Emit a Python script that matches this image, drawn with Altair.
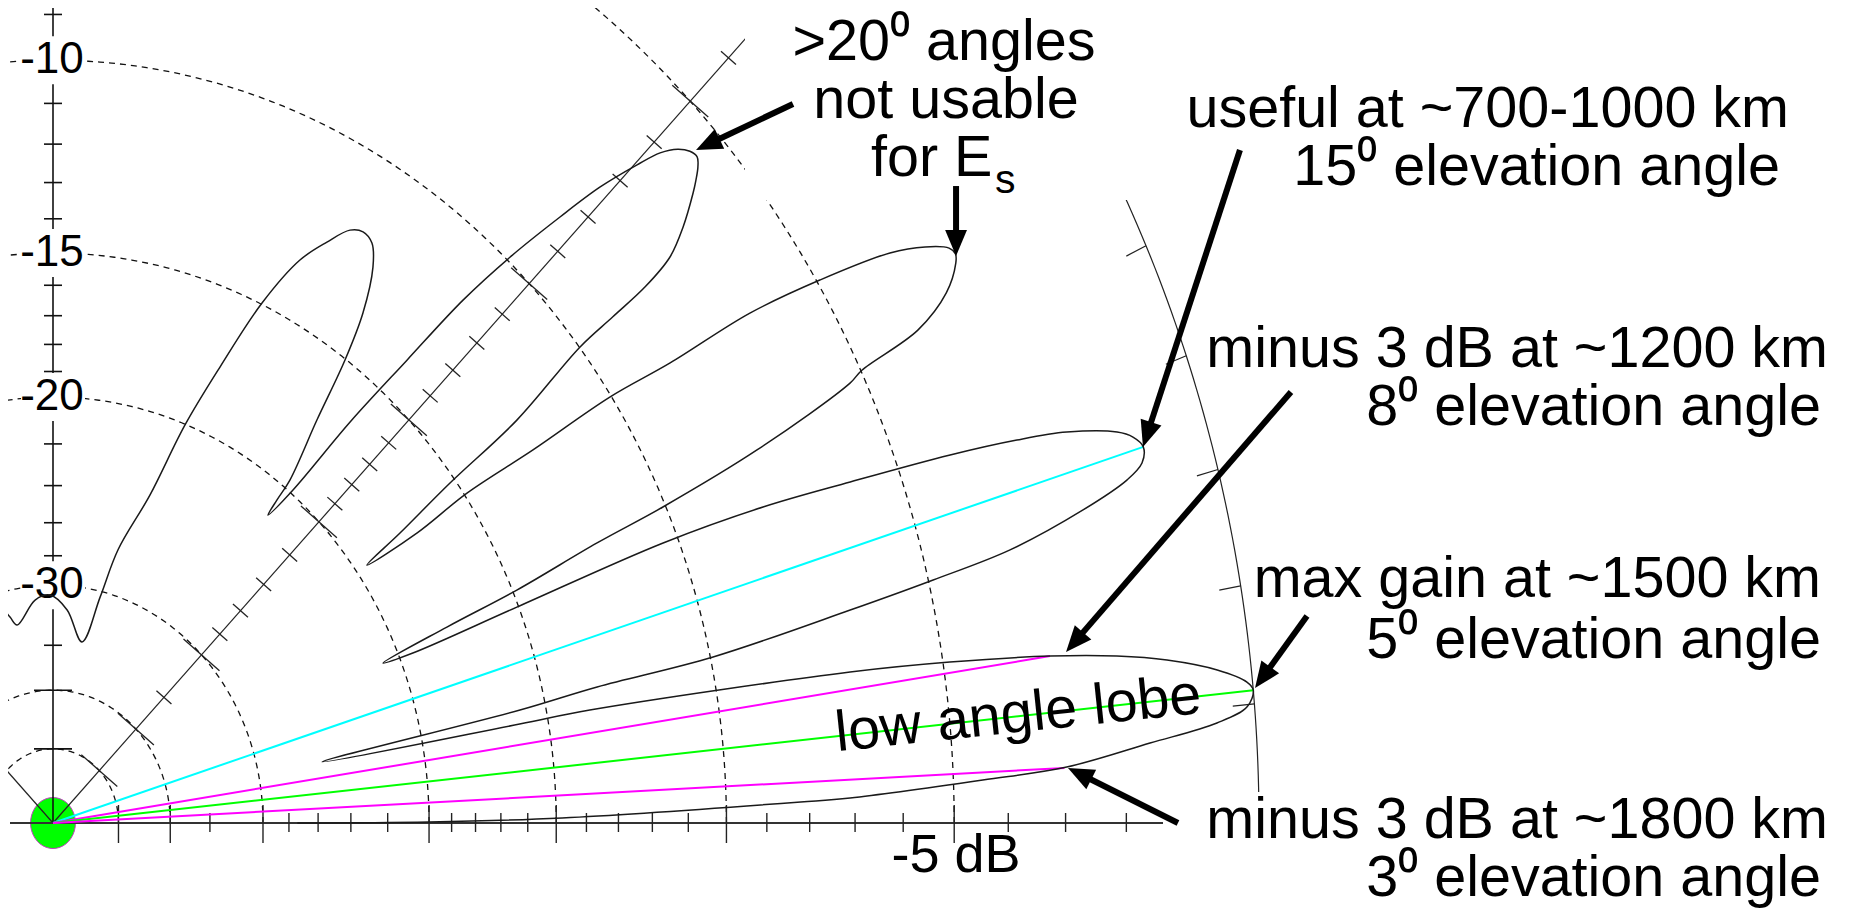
import numpy as np
import pandas as pd
import altair as alt

# ---------------- values ----------------
# elevation pattern, in drawing order: elevation angle (deg) and gain rel. to max (dB)
pattern_elev = [0.0, 0.13, 0.5, 1.42, 1.59, 2.34, 2.79, 3.68, 4.34, 4.9, 5.58,
                5.95, 6.62, 7.36, 7.89, 8.41, 9.0, 9.49, 10.52, 10.6, 11.33,
                12.06, 12.45, 12.52, 13.27, 13.7, 14.14, 15.02, 15.75, 16.27, 16.94,
                17.51, 17.97, 18.8, 19.33, 19.91, 20.69, 21.45, 22.06, 22.34, 22.64, 23.17,
                23.71, 23.91, 24.44, 24.58, 25.07, 25.98, 26.3, 26.71, 27.65, 28.7, 29.1, 29.53,
                30.25, 31.02, 32.01, 32.86, 33.35, 34.03, 34.46, 35.13, 35.12, 35.96,
                36.42, 37.09, 37.48, 38.57, 38.6, 38.64, 39.0, 39.87, 41.0, 41.44, 41.92,
                42.4, 42.96, 43.6, 44.26, 44.85, 45.74, 46.54,
                47.55, 48.39, 49.1, 50.0, 50.78, 51.67,
                51.86, 51.96, 53.43, 54.46, 55.46, 56.9, 58.08, 59.29, 60.43, 61.89,
                63.58, 65.52, 67.47, 69.41, 71.49, 74.9, 76.7, 79.71, 85.7, 90.86,
                95.2, 101.6, 103.3, 106.0]
pattern_db = [-27.4, -20.0, -14.8, -8.2, -7.1, -4.45, -2.96, -1.59, -0.56, -0.11, 0.0,
              -0.08, -0.49, -1.22, -1.99, -3.08, -4.87, -6.87, -13.6, -16.0, -25.4,
              -15.9, -13.25, -9.93, -6.64, -4.91, -3.44, -2.11, -1.33, -1.05, -0.97,
              -1.08, -1.29, -2.04, -2.85, -4.02, -5.96, -7.86, -10.39, -15.06, -19.38, -20.8,
              -17.69, -14.86, -12.05, -10.07, -7.54, -5.28, -4.98, -3.77, -3.07, -2.72, -2.66, -2.71,
              -3.05, -3.62, -4.94, -6.42, -8.41, -10.04, -12.5, -14.9, -17.1, -19.47,
              -17.65, -15.19, -12.43, -9.99, -8.94, -7.96, -7.18, -6.6, -6.04, -5.85, -5.67,
              -5.56, -5.6, -5.75, -6.05, -6.54, -7.39, -8.45,
              -9.91, -11.49, -13.77, -16.46, -19.84, -21.4,
              -20.62, -19.62, -17.19, -15.03, -13.58, -12.39, -11.89, -11.78, -11.93, -12.52,
              -13.32, -14.96, -17.47, -20.03, -23.58, -27.0, -30.4, -34.41, -31.84, -30.73,
              -31.04, -32.79, -32.0, -30.5]

# coloured rays from the origin
ray_elev = [16.94, 8.41, 5.58, 2.75]
ray_db = [-0.97, -3.08, 0.0, -3.0]
ray_color = ["#00ffff", "#ff00ff", "#00ff00", "#ff00ff"]

# grid circles (dB) and scale ticks (dB)
grid_db = [-5, -10, -15, -20, -30, -40, -50]
outer_db = 0
tick_major_db = [-5, -10, -15, -20, -30, -40, -50]
tick_minor_db = [-1, -2, -3, -4, -6, -7, -8, -9, -11, -12, -13, -14,
                 -16, -17, -18, -19, -22, -24, -26, -28, -35]
outer_tick_elev = [5, 10, 15, 20, 25, 30, 35, 40, 45, 50, 55, 60, 65, 70, 75, 80, 85]
radial_elev = [45, 135]

# vertical scale labels
vlabel_db = [-10, -15, -20, -30]
vlabel_txt = ["-10", "-15", "-20", "-30"]

# annotation arrows (units of the 0 dB radius)
arrow_tail_u = [0.6136, 0.7488, 0.9842, 1.0265, 1.0398, 0.9328]
arrow_tail_v = [0.5264, 0.4663, 0.4927, 0.3155, 0.1515, 0.0]
arrow_tip_u = [0.5332, 0.7488, 0.9038, 0.8400, 0.9967, 0.8416]
arrow_tip_v = [0.4927, 0.4151, 0.2753, 0.1252, 0.0988, 0.0403]

# annotation texts
note_text = [">20\u2070 angles", "not usable", "for E", "s",
             "useful at ~700-1000 km", "15\u2070 elevation angle",
             "minus 3 dB at ~1200 km", "8\u2070 elevation angle",
             "max gain at ~1500 km", "5\u2070 elevation angle",
             "minus 3 dB at ~1800 km", "3\u2070 elevation angle", "-5 dB"]
lobe_text = "low angle lobe"

# ---------------- layout / style ----------------
FONT = "Liberation Sans"
FS = 57.5
W, H = 1834, 900
SX, SY = 1206.0, 1366.0       # px per unit radius
OX, OY = 45.0, 815.0          # origin in plot px
xs = alt.Scale(domain=[-OX / SX, (W - OX) / SX], nice=False, zero=False)
ys = alt.Scale(domain=[(OY - H) / SY, OY / SY], nice=False, zero=False)

note_pos = [(936, 52, "center", FS), (938, 110, "center", FS), (863, 168, "left", FS),
            (987, 185, "left", 41),
            (1781, 119, "right", FS), (1772, 177, "right", FS),
            (1820, 359, "right", FS), (1813, 417, "right", FS),
            (1813, 589, "right", FS), (1813, 650, "right", FS),
            (1820, 830, "right", FS), (1813, 888, "right", FS),
            (948, 864, "center", 54)]


def rad(db):
    return 0.89 ** (-np.asarray(db, dtype=float) / 2.0)


def cart(elev, db):
    r = rad(db)
    t = np.radians(np.asarray(elev, dtype=float))
    return r * np.cos(t), r * np.sin(t)


def XY(ch):
    return ch.encode(x=alt.X("x:Q", scale=xs, axis=None),
                     y=alt.Y("y:Q", scale=ys, axis=None))


def rules(df, **kw):
    return alt.Chart(df).mark_rule(clip=True, **kw).encode(
        x=alt.X("x:Q", scale=xs, axis=None), y=alt.Y("y:Q", scale=ys, axis=None),
        x2=alt.X2("x2:Q"), y2=alt.Y2("y2:Q"))


layers = []

# green feed-point disc
tt = np.linspace(0, 2 * np.pi, 41)[:-1]
ell = "M" + "L".join(f"{0.88*np.cos(a):.3f},{np.sin(a):.3f}" for a in tt) + "Z"
layers.append(XY(alt.Chart(pd.DataFrame({"x": [0.0], "y": [0.0]})).mark_point(
    shape=ell, size=2601, filled=True, fill="#00ff00", stroke="#c040c0",
    strokeWidth=1, opacity=1)))

# dashed grid circles
th = np.arange(0, 180.5, 1.0)
g = []
for d in grid_db:
    x, y = cart(th, np.full_like(th, d))
    g.append(pd.DataFrame({"x": x, "y": y, "g": str(d), "i": np.arange(len(th))}))
layers.append(alt.Chart(pd.concat(g)).mark_line(
    clip=True, strokeDash=[6, 5], color="#111", strokeWidth=1.3).encode(
    x=alt.X("x:Q", scale=xs, axis=None), y=alt.Y("y:Q", scale=ys, axis=None),
    detail="g:N", order="i:Q"))

# solid 0 dB circle and its angle ticks
th2 = np.arange(0, 90.5, 0.5)
x, y = cart(th2, np.full_like(th2, outer_db))
layers.append(alt.Chart(pd.DataFrame({"x": x, "y": y, "i": np.arange(len(th2))})).mark_line(
    clip=True, color="#222", strokeWidth=1.2).encode(
    x=alt.X("x:Q", scale=xs, axis=None), y=alt.Y("y:Q", scale=ys, axis=None), order="i:Q"))
te = np.radians(outer_tick_elev)
layers.append(rules(pd.DataFrame({"x": 0.982 * np.cos(te), "y": 0.982 * np.sin(te),
                                  "x2": np.cos(te), "y2": np.sin(te)}),
                    color="#222", strokeWidth=1.2))

# radial lines
re_ = np.radians(radial_elev)
layers.append(rules(pd.DataFrame({"x": 0.0, "y": 0.0, "x2": 1.2 * np.cos(re_),
                                  "y2": 1.2 * np.sin(re_)}), color="#222", strokeWidth=1.2))

# ticks across the 45 degree line
d45 = np.array([np.cos(np.pi / 4) * SX, np.sin(np.pi / 4) * SY])
d45 = d45 / np.hypot(*d45)
n45 = np.array([d45[1], -d45[0]])     # perpendicular, in px (y up)
tk = []
for dl, h in ((tick_minor_db, 10), (tick_major_db, 24)):
    r = rad(dl)
    px, py = r * np.cos(np.pi / 4), r * np.sin(np.pi / 4)
    tk.append(pd.DataFrame({"x": px - h * n45[0] / SX, "y": py - h * n45[1] / SY,
                            "x2": px + h * n45[0] / SX, "y2": py + h * n45[1] / SY}))
layers.append(rules(pd.concat(tk), color="#222", strokeWidth=1.3))

# axes
layers.append(rules(pd.DataFrame({"x": [-43 / SX], "y": [0.0], "x2": [1.0], "y2": [0.0]}),
                    color="#333", strokeWidth=2.2))
layers.append(rules(pd.DataFrame({"x": [0.0], "y": [0.0], "x2": [0.0], "y2": [1.0]}),
                    color="#111", strokeWidth=1.6))
hx = []
for dl, up, dn in ((tick_minor_db, 10, 9), (tick_major_db, 18, 20)):
    r = rad(dl)
    hx.append(pd.DataFrame({"x": r, "y": -dn / SY, "x2": r, "y2": up / SY}))
layers.append(rules(pd.concat(hx), color="#222", strokeWidth=1.4))
vx = []
for dl, h in ((tick_minor_db, 9), (tick_major_db, 19)):
    r = rad(dl)
    vx.append(pd.DataFrame({"x": -h / SX, "y": r, "x2": h / SX, "y2": r}))
layers.append(rules(pd.concat(vx), color="#111", strokeWidth=1.6))

# white masks: label backgrounds and text boxes
layers.append(XY(alt.Chart(pd.DataFrame({"x": 0.0, "y": rad(vlabel_db)})).mark_point(
    shape="M-1,-0.75L1,-0.75L1,0.75L-1,0.75Z", size=4096, filled=True,
    fill="white", strokeWidth=0, opacity=1)))
for (a, b, c, d) in ((737, 1152, 0, 192), (1155, 1834, 784, 900)):
    layers.append(alt.Chart(pd.DataFrame({"k": [0]})).mark_rect(color="white").encode(
        x=alt.value(a), x2=alt.value(b), y=alt.value(c), y2=alt.value(d)))

# vertical scale labels
layers.append(XY(alt.Chart(pd.DataFrame({"x": 0.0, "y": rad(vlabel_db), "t": vlabel_txt}))
                 .mark_text(font=FONT, fontSize=44, align="center", baseline="middle",
                            color="black", dx=-1)).encode(text="t:N"))

# coloured rays
rx, ry = cart(ray_elev, ray_db)
for i in range(len(ray_elev)):
    layers.append(rules(pd.DataFrame({"x": [0.0], "y": [0.0], "x2": [rx[i]], "y2": [ry[i]]}),
                        color=ray_color[i], strokeWidth=2))

# antenna pattern
px_, py_ = cart(pattern_elev, pattern_db)
layers.append(alt.Chart(pd.DataFrame({"x": px_, "y": py_, "i": np.arange(len(px_))}))
              .mark_line(clip=True, color="#1a1a1a", strokeWidth=1.5,
                         interpolate="catmull-rom").encode(
    x=alt.X("x:Q", scale=xs, axis=None), y=alt.Y("y:Q", scale=ys, axis=None), order="i:Q"))

# arrows
tu, tv = np.array(arrow_tail_u), np.array(arrow_tail_v)
pu, pv = np.array(arrow_tip_u), np.array(arrow_tip_v)
dxp, dyp = (pu - tu) * SX, -(pv - tv) * SY
L = np.hypot(dxp, dyp)
ux, uy = dxp / L, dyp / L
back = 18.0
layers.append(rules(pd.DataFrame({"x": tu, "y": tv, "x2": pu - back * ux / SX,
                                  "y2": pv + back * uy / SY}),
                    color="black", strokeWidth=6))
ang = np.mod(np.degrees(np.arctan2(ux, -uy)), 360)
layers.append(alt.Chart(pd.DataFrame({"x": pu, "y": pv, "ang": ang})).mark_point(
    shape="M0,0L0.42,1L-0.42,1Z", size=2704, filled=True, color="black", opacity=1).encode(
    x=alt.X("x:Q", scale=xs, axis=None), y=alt.Y("y:Q", scale=ys, axis=None),
    angle=alt.Angle("ang:Q", scale=None)))

# annotation texts
for t, (px, py, al, fs) in zip(note_text, note_pos):
    layers.append(alt.Chart(pd.DataFrame({"t": [t]})).mark_text(
        font=FONT, fontSize=fs, align=al, baseline="alphabetic", color="black").encode(
        x=alt.value(px), y=alt.value(py), text="t:N"))
layers.append(alt.Chart(pd.DataFrame({"t": [lobe_text]})).mark_text(
    font=FONT, fontSize=FS, align="center", baseline="alphabetic", color="black",
    angle=354).encode(x=alt.value(1012), y=alt.value(724), text="t:N"))

chart = alt.layer(*layers).properties(
    width=W, height=H, padding=0, background="white",
    autosize=alt.AutoSizeParams(type="none")).configure_view(strokeWidth=0)

chart.save("out.html", embed_options={"renderer": "svg", "actions": False})
